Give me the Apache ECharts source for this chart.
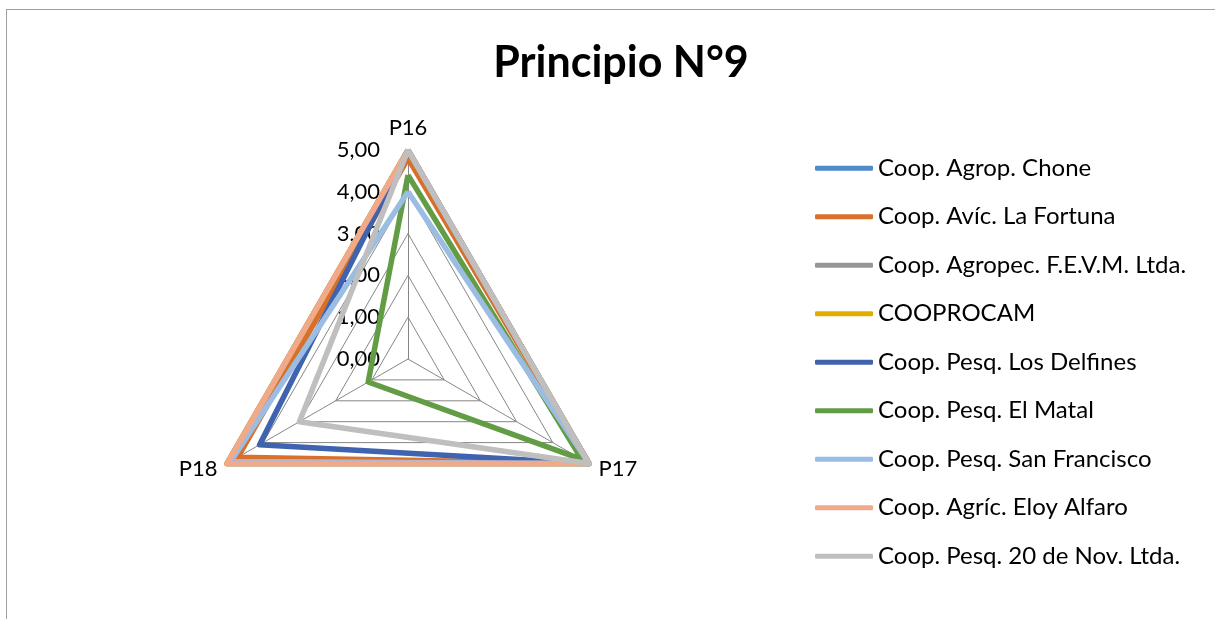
<!DOCTYPE html>
<html>
<head>
<meta charset="utf-8">
<script src="https://cdn.jsdelivr.net/npm/echarts@6/dist/echarts.min.js"></script>
<style>
  html, body { margin: 0; padding: 0; background: #fff; }
  #frame { position: absolute; left: 6px; top: 9px; width: 1240px; height: 640px; border: 1px solid #a0a0a0; }
  #main { position: absolute; left: 0; top: 0; width: 1215px; height: 619px; }
</style>
</head>
<body>
<div id="frame"></div>
<div id="main"></div>
<script>
"use strict";
// indicadores en orden P16, P17, P18
var indicators = ['P16', 'P17', 'P18'];
var names = ['Coop. Agrop. Chone', 'Coop. Avíc. La Fortuna', 'Coop. Agropec. F.E.V.M. Ltda.', 'COOPROCAM',
	'Coop. Pesq. Los Delfines', 'Coop. Pesq. El Matal', 'Coop. Pesq. San Francisco', 'Coop. Agríc. Eloy Alfaro',
	'Coop. Pesq. 20 de Nov. Ltda.'];
var colors = ['#4f8bc8', '#d8702c', '#969696', '#e4ab00', '#3f63ae', '#629c44', '#9cbde3', '#f1a98a', '#bfbfbf'];
var chone = [5, 5, 5];
var fortuna = [4.8, 5, 4.7];
var fevm = [5, 5, 5];
var cooprocam = [5, 5, 5];
var delfines = [5, 5, 4.1];
var matal = [4.4, 4.8, 1.1];
var sanFrancisco = [4.0, 5, 4.9];
var eloyAlfaro = [5, 5, 5];
var nov20 = [5, 5, 3.0];
var values = [chone, fortuna, fevm, cooprocam, delfines, matal, sanFrancisco, eloyAlfaro, nov20];
var axisMax = 5;

// echarts dibuja el radar en sentido antihorario: P16, P18, P17
var order = [0, 2, 1];

var series = values.map(function(v, i){
	return {
		name: names[i], type: 'radar', symbol: 'none', silent: true,
		lineStyle: { color: colors[i], width: 5.5, join: 'round' },
		itemStyle: { color: colors[i] },
		data: [{ name: names[i], value: order.map(function(k){ return v[k]; }) }]
	};
});

var option = {
	animation: false,
	title: {
		text: 'Principio N°9', left: 616, top: 37, textAlign: 'center',
		textStyle: { fontFamily: 'Lato', fontSize: 43, fontWeight: 'bold', color: '#000' }
	},
	legend: {
		data: names, orient: 'vertical', left: 810, top: 151,
		icon: 'roundRect', itemWidth: 58, itemHeight: 5, itemGap: 24,
		textStyle: { fontFamily: 'Lato', fontSize: 24, color: '#000', lineHeight: 24.5 }
	},
	radar: {
		center: [408, 359], radius: 209, shape: 'polygon', splitNumber: 5, startAngle: 90,
		indicator: order.map(function(k){ return { name: indicators[k], min: 0, max: axisMax }; }),
		axisName: { color: '#000', fontFamily: 'Lato', fontSize: 22 },
		nameGap: 11,
		axisLine: { lineStyle: { color: '#868686', width: 1 } },
		splitLine: { lineStyle: { color: '#868686', width: 1 } },
		splitArea: { show: false }
	},
	polar: { center: [408, 359], radius: 209 },
	angleAxis: { type: 'value', startAngle: 90, show: false, min: 0, max: 360 },
	radiusAxis: {
		type: 'value', min: 0, max: axisMax, interval: 1,
		axisLine: { show: false }, axisTick: { show: false }, splitLine: { show: false },
		axisLabel: { margin: 28, color: '#000', fontFamily: 'Lato', fontSize: 22,
			formatter: function(v){ return v.toFixed(2).replace('.', ','); } }
	},
	series: series
};

var chart = echarts.init(document.getElementById('main'));
chart.setOption(option);
</script>
</body>
</html>
